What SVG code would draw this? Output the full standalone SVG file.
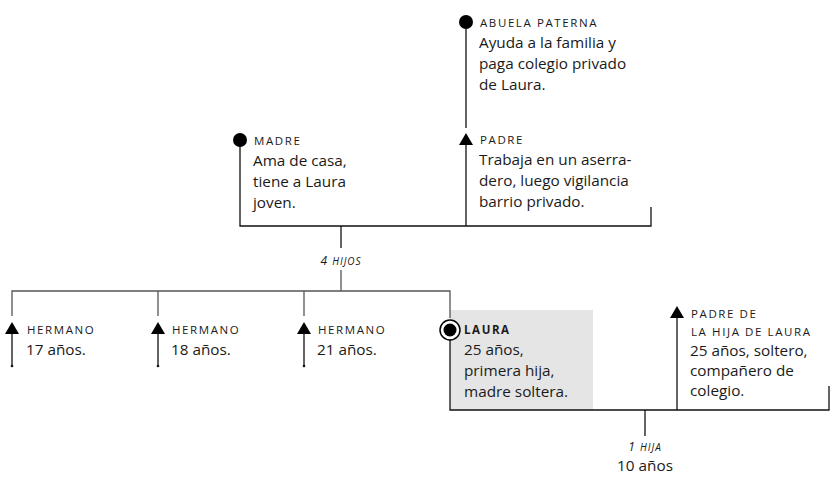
<svg xmlns="http://www.w3.org/2000/svg" width="831" height="483" viewBox="0 0 831 483">
<style>
.lbl{font-family:"Open Sans","Noto Sans",sans-serif;font-size:11.5px;letter-spacing:1.6px;fill:#1a1a1a}
.bd{font-family:"Open Sans","Noto Sans",sans-serif;font-size:15.3px;fill:#1a1a1a}
.it{font-family:"Open Sans","Noto Sans",sans-serif;font-size:12px;font-style:italic;letter-spacing:1px;fill:#1a1a1a}
.ln{stroke:#111;stroke-width:1.3;fill:none}
.ln2{stroke:#555;stroke-width:1.3;fill:none}
</style>
<defs>
<polygon id="tri" points="0,-7 7,5 -7,5" fill="#000"/>
</defs>
<rect x="450" y="310" width="143" height="100" fill="#e5e5e5"/>
<g id="connectors">
<path class="ln" d="M466,22 V128"/>
<path class="ln" d="M466,140 V226"/>
<path class="ln" d="M240,140 V226 H651 V207"/>
<path class="ln" d="M341,226 V248"/>
<path class="ln2" d="M341,270 V291"/>
<path class="ln2" d="M12,316 V291 H450 V318"/>
<path class="ln2" d="M158,291 V316"/>
<path class="ln2" d="M304,291 V316"/>
<path class="ln" d="M12,333 V366"/>
<path class="ln" d="M158,333 V366"/>
<path class="ln" d="M304,333 V366"/>
<circle cx="12" cy="366" r="1.3" fill="#111"/>
<circle cx="158" cy="366" r="1.3" fill="#111"/>
<circle cx="304" cy="366" r="1.3" fill="#111"/>
<path class="ln" d="M450,330 V410 H829 V386"/>
<path class="ln" d="M677,315 V410"/>
<path class="ln" d="M645,410 V436"/>
</g>
<g id="abuela">
<circle cx="466" cy="22" r="7" fill="#000"/>
<text class="lbl" x="480" y="27">ABUELA PATERNA</text>
<text class="bd" x="479" y="48">Ayuda a la familia y</text>
<text class="bd" x="479" y="69">paga colegio privado</text>
<text class="bd" x="479" y="90">de Laura.</text>
</g>
<g id="padre">
<use href="#tri" x="466" y="140"/>
<text class="lbl" x="480" y="144">PADRE</text>
<text class="bd" x="479" y="165">Trabaja en un aserra-</text>
<text class="bd" x="479" y="186">dero, luego vigilancia</text>
<text class="bd" x="479" y="207">barrio privado.</text>
</g>
<g id="madre">
<circle cx="240" cy="140" r="7" fill="#000"/>
<text class="lbl" x="254" y="145">MADRE</text>
<text class="bd" x="253" y="166">Ama de casa,</text>
<text class="bd" x="253" y="187">tiene a Laura</text>
<text class="bd" x="253" y="208">joven.</text>
</g>
<g id="hijos-label">
<text class="it" x="341" y="265" text-anchor="middle">4 <tspan font-size="10px">HIJOS</tspan></text>
</g>
<g id="hermano17">
<use href="#tri" x="12" y="329"/>
<text class="lbl" x="27" y="334">HERMANO</text>
<text class="bd" x="26" y="355">17 años.</text>
</g>
<g id="hermano18">
<use href="#tri" x="158" y="329"/>
<text class="lbl" x="172" y="334">HERMANO</text>
<text class="bd" x="171" y="355">18 años.</text>
</g>
<g id="hermano21">
<use href="#tri" x="304" y="329"/>
<text class="lbl" x="318" y="334">HERMANO</text>
<text class="bd" x="317" y="355">21 años.</text>
</g>
<g id="laura">
<circle cx="450" cy="330" r="10" fill="#fff" stroke="#000" stroke-width="1.5"/>
<circle cx="450" cy="330" r="6.5" fill="#000"/>
<text class="lbl" x="464" y="334" font-weight="bold" letter-spacing="0.8px" font-size="12.5px">LAURA</text>
<text class="bd" x="464" y="355">25 años,</text>
<text class="bd" x="464" y="376">primera hija,</text>
<text class="bd" x="464" y="397">madre soltera.</text>
</g>
<g id="padre-hija">
<use href="#tri" x="677" y="313"/>
<text class="lbl" x="691" y="318">PADRE DE</text>
<text class="lbl" x="691" y="336">LA HIJA DE LAURA</text>
<text class="bd" x="690" y="356">25 años, soltero,</text>
<text class="bd" x="690" y="376">compañero de</text>
<text class="bd" x="690" y="396">colegio.</text>
</g>
<g id="hija">
<text class="it" x="645" y="451" text-anchor="middle">1 <tspan font-size="10px">HIJA</tspan></text>
<text class="bd" x="645" y="471" text-anchor="middle">10 años</text>
</g>
</svg>
